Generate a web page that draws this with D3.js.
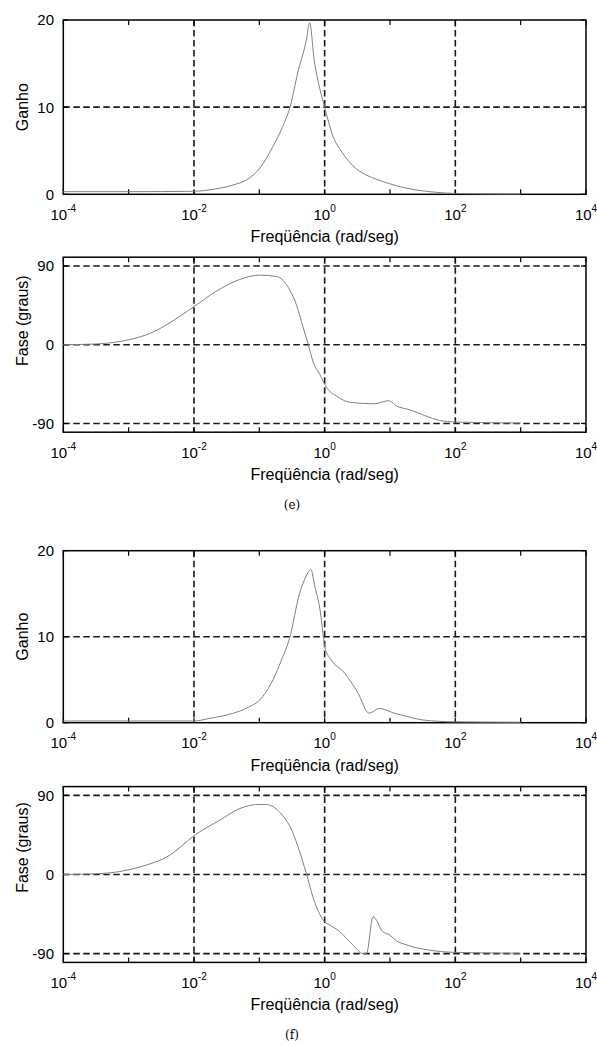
<!DOCTYPE html>
<html>
<head>
<meta charset="utf-8">
<script src="https://cdn.jsdelivr.net/npm/d3@7"></script>
<style>
  body { margin: 0; background: #fff; }
  svg { display: block; }
  text { font-family: "Liberation Sans", Arial, Helvetica, sans-serif; fill: #000; }
</style>
</head>
<body>
<svg id="chart" width="597" height="1041"></svg>
<script>
// ---- data (frequency in rad/s) ----
const freqGainE = [0.0001, 0.001, 0.01, 0.0195, 0.0398, 0.0631, 0.102, 0.162, 0.229, 0.295, 0.389, 0.525, 0.589,
                   0.692, 0.851, 1, 1.35, 1.78, 2.69, 4.37, 6.31, 10, 17.8, 31.6, 56.2, 100, 316, 1000];
const gainE     = [0.3, 0.3, 0.35, 0.57, 1.07, 1.64, 3.0, 5.5, 7.8, 10, 14, 17.7, 19.7,
                   15.4, 12, 10, 6.6, 5.0, 3.3, 2.2, 1.7, 1.2, 0.7, 0.4, 0.2, 0.1, 0.05, 0.03];

const freqPhaseE = [0.0001, 0.000316, 0.00105, 0.00214, 0.00427, 0.0102, 0.0224, 0.0501, 0.102, 0.182, 0.295, 0.372,
                    0.468, 0.562, 0.676, 0.851, 1.05, 1.58, 2.51, 5.75, 9.55, 12.6, 20, 57.5, 100, 1000];
const phaseE     = [0, 0.8, 6, 13, 25, 44, 61.5, 74.5, 79.5, 78, 62, 45,
                    20, 0, -21, -34.5, -48, -59.6, -66, -67.5, -64, -70, -74.4, -86.5, -88.4, -89.5];

const freqGainF = [0.0001, 0.001, 0.01, 0.0174, 0.0398, 0.0631, 0.112, 0.162, 0.219, 0.295, 0.407, 0.49, 0.617,
                   0.708, 0.851, 0.955, 1, 1.26, 2.0, 3.24, 4.79, 6.92, 11.7, 14.8, 33.1, 100, 1000];
const gainF     = [0.2, 0.2, 0.2, 0.5, 1.1, 1.67, 3.0, 5.0, 7.3, 10, 14.85, 16.6, 17.8,
                   15.8, 13.1, 10, 8.8, 7.3, 5.8, 3.45, 1.1, 1.67, 1.1, 0.9, 0.3, 0.1, 0.05];

const freqPhaseF = [0.0001, 0.000363, 0.00148, 0.00427, 0.0102, 0.0251, 0.0501, 0.1, 0.129, 0.204, 0.324, 0.407,
                    0.525, 0.661, 0.851, 1, 1.2, 1.7, 2.69, 3.89, 4.37, 5.5, 7.76, 10, 12.3, 17.8, 39.8, 100, 1000];
const phaseF     = [0, 1, 8.6, 22, 44.6, 62, 75, 79.7, 79.5, 71, 48, 27.6,
                    1, -25.5, -46, -54, -57.5, -65, -80, -90, -90, -48, -65, -69, -75, -80, -86, -88.6, -89.6];

const xTickExps  = [-4, -2, 0, 2, 4];
const xMinorExps = [-3, -1, 1, 3];
const gainTicks  = [0, 10, 20];
const phaseTicks = [-90, 0, 90];
const xTitle = "Freqüência (rad/seg)";
const captions = ["(e)", "(f)"];

// ---- layout ----
const svg = d3.select("#chart");
const left = 63.3, right = 586;
const x = d3.scaleLog().domain([1e-4, 1e4]).range([left, right]);

const panels = [
  { top: 20,    bottom: 194.3, domain: [0, 20],     ticks: gainTicks,  grid: [10],        title: "Ganho",        titleShift: 0,   f: freqGainE,  v: gainE },
  { top: 257.2, bottom: 432.2, domain: [-100, 100], ticks: phaseTicks, grid: phaseTicks,  title: "Fase (graus)", titleShift: -24, f: freqPhaseE, v: phaseE },
  { top: 550.7, bottom: 722.7, domain: [0, 20],     ticks: gainTicks,  grid: [10],        title: "Ganho",        titleShift: 0,   f: freqGainF,  v: gainF },
  { top: 786.6, bottom: 962.4, domain: [-100, 100], ticks: phaseTicks, grid: phaseTicks,  title: "Fase (graus)", titleShift: -27, f: freqPhaseF, v: phaseF }
];

const dash = "6.5,3.5";

panels.forEach((p, i) => {
  const y = d3.scaleLinear().domain(p.domain).range([p.bottom, p.top]);
  const g = svg.append("g");

  // dashed grid at the labelled decades and at the labelled levels
  g.selectAll(".vgrid").data(xTickExps.filter(e => e > -4 && e < 4)).join("line")
    .attr("x1", e => x(Math.pow(10, e))).attr("x2", e => x(Math.pow(10, e)))
    .attr("y1", p.top).attr("y2", p.bottom)
    .attr("stroke", "#1a1a1a").attr("stroke-width", 1.6).attr("stroke-dasharray", dash);
  g.selectAll(".hgrid").data(p.grid).join("line")
    .attr("x1", left).attr("x2", right)
    .attr("y1", d => y(d)).attr("y2", d => y(d))
    .attr("stroke", "#1a1a1a").attr("stroke-width", 1.6).attr("stroke-dasharray", dash);

  // inner tick marks on top and bottom edges for every decade
  const allExps = xTickExps.concat(xMinorExps);
  [p.top, p.bottom].forEach((yy, k) => {
    g.selectAll(null).data(allExps).join("line")
      .attr("x1", e => x(Math.pow(10, e))).attr("x2", e => x(Math.pow(10, e)))
      .attr("y1", yy).attr("y2", k === 0 ? yy + 5 : yy - 5)
      .attr("stroke", "#000").attr("stroke-width", 1.2);
  });
  // inner tick marks on left and right edges
  [left, right].forEach((xx, k) => {
    g.selectAll(null).data(p.ticks).join("line")
      .attr("x1", xx).attr("x2", k === 0 ? xx + 5 : xx - 5)
      .attr("y1", d => y(d)).attr("y2", d => y(d))
      .attr("stroke", "#000").attr("stroke-width", 1.2);
  });

  // axes box
  g.append("rect").attr("x", left).attr("y", p.top)
    .attr("width", right - left).attr("height", p.bottom - p.top)
    .attr("fill", "none").attr("stroke", "#000").attr("stroke-width", 1.5);

  // y tick labels
  g.selectAll(".ylab").data(p.ticks).join("text")
    .attr("x", 54).attr("y", d => y(d)).attr("dy", "0.36em")
    .attr("text-anchor", "end").attr("font-size", 15)
    .text(d => d);

  // x tick labels 10^n
  const xl = g.selectAll(".xlab").data(xTickExps).join("text")
    .attr("x", e => x(Math.pow(10, e))).attr("y", p.bottom + 25.7)
    .attr("text-anchor", "middle").attr("font-size", 15);
  xl.append("tspan").text("10");
  xl.append("tspan").attr("dy", -8).attr("font-size", 10).text(e => e);

  // axis titles
  g.append("text").attr("x", left + (right - left) / 2).attr("y", p.bottom + 48)
    .attr("text-anchor", "middle").attr("font-size", 16).text(xTitle);
  const cy = (p.top + p.bottom) / 2 + p.titleShift;
  g.append("text").attr("transform", `translate(28,${cy}) rotate(-90)`)
    .attr("text-anchor", "middle").attr("font-size", 16).text(p.title);

  // response curve
  const line = d3.line().x(d => x(d[0])).y(d => y(d[1])).curve(d3.curveMonotoneX);
  g.append("path").datum(p.f.map((f, j) => [f, p.v[j]]))
    .attr("d", line).attr("fill", "none")
    .attr("stroke", "#808080").attr("stroke-width", 1);

  // sub-figure caption under each pair of plots
  if (i % 2 === 1) {
    svg.append("text").attr("x", 292).attr("y", p.bottom + 77)
      .attr("text-anchor", "middle")
      .style("font-family", "'DejaVu Serif', 'Liberation Serif', serif")
      .attr("font-size", 12).text(captions[(i - 1) / 2]);
  }
});
</script>
</body>
</html>
